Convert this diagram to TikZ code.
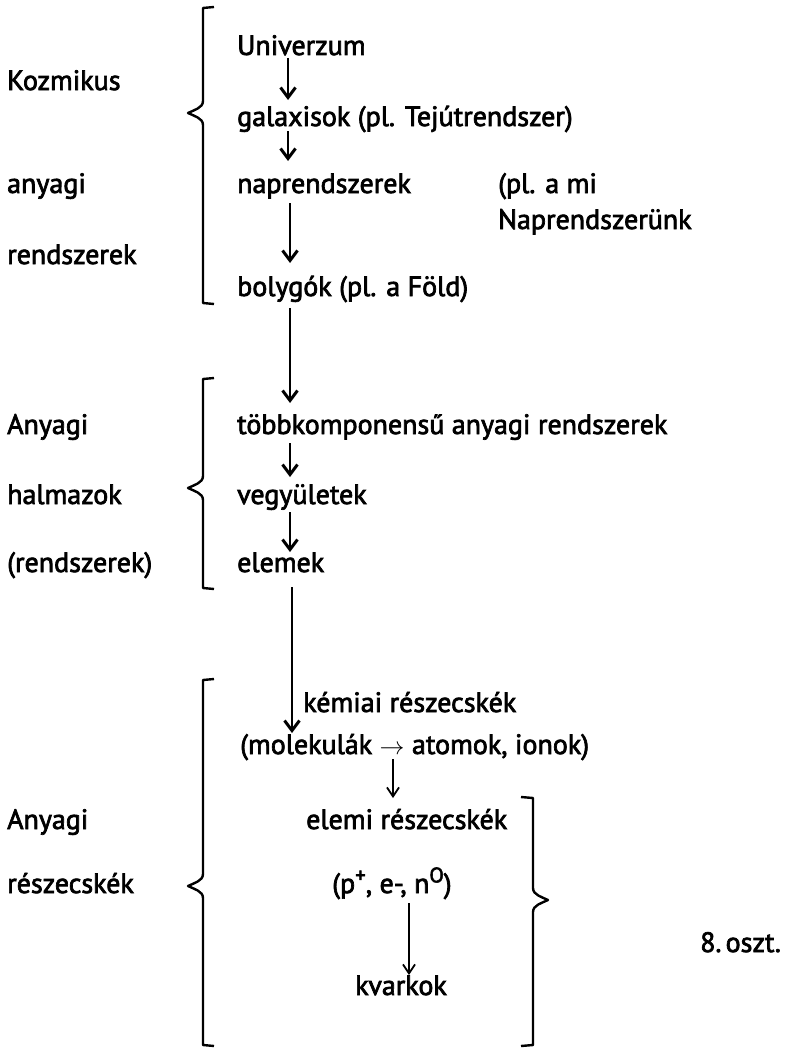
\documentclass[tikz,border=0pt]{standalone}
\usepackage{fontspec}
\setmainfont[FakeBold=2.5]{PT Sans}
\usetikzlibrary{arrows.meta}
\newcommand{\supx}[1]{\raisebox{0.38em}{\fontsize{21}{21}\selectfont #1}}
\begin{document}
\begin{tikzpicture}[x=1pt,y=1pt,
 lbl/.style={anchor=base west, inner sep=0pt, font=\fontsize{28}{32}\selectfont},
 arr/.style={line width=2.6pt, -{Straight Barb[length=10pt,width=15pt,line width=3pt]}},
 tarr/.style={line width=1.6pt, -{Straight Barb[length=9pt,width=12pt,line width=1.8pt]}},
 brk/.style={line width=2.4pt, line join=round}]
\useasboundingbox (0,0) rectangle (785,-1049);
% left labels
\node[lbl] (kozm) at (7,-90) {Kozmikus};
\node[lbl] (any1) at (7,-193) {anyagi};
\node[lbl] (rend1) at (7,-264) {rendszerek};
\node[lbl] (any2) at (7,-434) {Anyagi};
\node[lbl] (halm) at (7,-504) {halmazok};
\node[lbl] (rend2) at (7,-572) {(rendszerek)};
\node[lbl] (any3) at (7,-829) {Anyagi};
\node[lbl] (resz) at (7,-893) {részecskék};
% right column
\node[lbl] (univ) at (237,-55) {Univerzum};
\node[lbl] (gal) at (237,-126) {galaxisok (pl. Tejútrendszer)};
\node[lbl] (nap) at (237,-193) {naprendszerek};
\node[lbl] (plami) at (498,-193) {(pl. a mi};
\node[lbl] (napr) at (498,-229) {Naprendszerünk};
\node[lbl] (boly) at (237,-296) {bolygók (pl. a Föld)};
\node[lbl] (tobb) at (237,-434) {többkomponensű anyagi rendszerek};
\node[lbl] (vegy) at (237,-504) {vegyületek};
\node[lbl] (elem) at (237,-572) {elemek};
\node[lbl] (kem) at (303,-712) {kémiai részecskék};
\node[lbl] (mol) at (240,-754) {(molekulák $\rightarrow$ atomok, ionok)};
\node[lbl] (elemi) at (306,-829) {elemi részecskék};
\node[lbl] (pne) at (332,-893) {(p\supx{+}, e-, n\supx{O})};
\node[lbl] (kvark) at (355,-995) {kvarkok};
\node[lbl] (oszt) at (700,-952) {8.\hspace{0.15em}oszt.};
% arrows
\draw[arr] ([xshift=51pt,yshift=-3pt]univ.base west) -- ([xshift=51pt,yshift=26pt]gal.base west);
\draw[arr] ([xshift=51pt,yshift=-5pt]gal.base west) -- ([xshift=51pt,yshift=32pt]nap.base west);
\draw[arr] ([xshift=53pt,yshift=-10pt]nap.base west) -- ([xshift=53pt,yshift=33pt]boly.base west);
\draw[arr] ([xshift=53pt,yshift=-12pt]boly.base west) -- ([xshift=53pt,yshift=31pt]tobb.base west);
\draw[arr] ([xshift=53pt,yshift=-9pt]tobb.base west) -- ([xshift=53pt,yshift=27pt]vegy.base west);
\draw[arr] ([xshift=53pt,yshift=-8pt]vegy.base west) -- ([xshift=53pt,yshift=20pt]elem.base west);
\draw[arr] ([xshift=55pt,yshift=-15pt]elem.base west) -- ([xshift=52pt,yshift=21pt]mol.base west);
\draw[tarr] ([xshift=153pt,yshift=-5pt]mol.base west) -- ([xshift=87pt,yshift=31pt]elemi.base west);
\draw[tarr] ([xshift=77pt,yshift=-10pt]pne.base west) -- ([xshift=54pt,yshift=20pt]kvark.base west);
% brackets
\draw[brk] (214,-7) -- (203,-8) -- (203,-101) .. controls (203,-108) and (194,-110) .. (188,-113)
  .. controls (194,-116) and (203,-118) .. (203,-125) -- (203,-303) -- (214,-304);
\draw[brk] (214,-378) -- (203,-379) -- (203,-476) .. controls (203,-483) and (194,-485) .. (188,-488)
  .. controls (194,-491) and (203,-493) .. (203,-500) -- (203,-588) -- (214,-589);
\draw[brk] (214,-679) -- (203,-680) -- (203,-874) .. controls (203,-881) and (194,-883) .. (188,-886)
  .. controls (194,-889) and (203,-891) .. (203,-898) -- (203,-1045) -- (214,-1046);
\draw[brk] (521,-797) -- (533,-798) -- (533,-888) .. controls (533,-895) and (542,-897) .. (548,-900)
  .. controls (542,-903) and (533,-905) .. (533,-912) -- (533,-1045) -- (521,-1046);
\end{tikzpicture}
\end{document}
